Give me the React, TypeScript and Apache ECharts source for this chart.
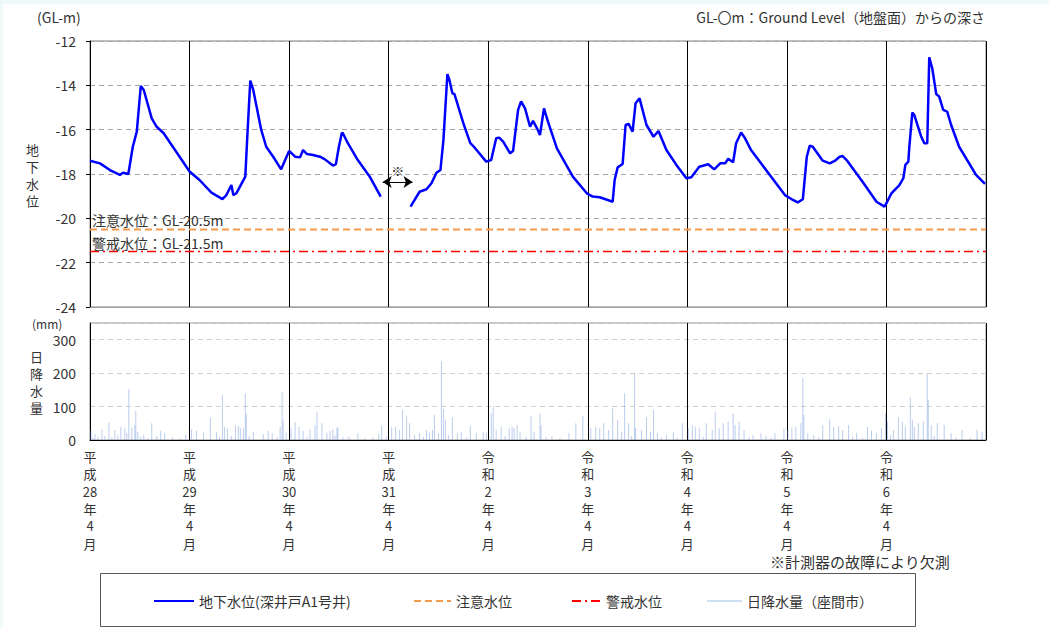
import { useEffect, useRef } from 'react';
import * as echarts from 'echarts';

const FONT = "'Noto Sans CJK JP', 'Noto Sans', sans-serif";
const TEXT = '#333333';

// Fiscal-year boundaries (April), counted in years from 平成28年4月
const yearLabels = [
  '平\n成\n28\n年\n4\n月',
  '平\n成\n29\n年\n4\n月',
  '平\n成\n30\n年\n4\n月',
  '平\n成\n31\n年\n4\n月',
  '令\n和\n2\n年\n4\n月',
  '令\n和\n3\n年\n4\n月',
  '令\n和\n4\n年\n4\n月',
  '令\n和\n5\n年\n4\n月',
  '令\n和\n6\n年\n4\n月',
];

// Groundwater level, deep well A1 [years since 2016-04, GL-m], before the gauge failure
const levelBefore: [number, number][] = [
  [0.0, -17.4], [0.1, -17.52], [0.2, -17.82], [0.3, -18.04], [0.33, -17.94], [0.385, -18.0],
  [0.43, -16.77], [0.47, -16.09], [0.51, -14.03], [0.54, -14.21], [0.62, -15.49], [0.67, -15.87],
  [0.74, -16.16], [0.9, -17.22], [1.0, -17.89], [1.1, -18.27], [1.22, -18.84], [1.33, -19.13],
  [1.37, -18.95], [1.42, -18.5], [1.44, -18.95], [1.47, -18.87], [1.56, -18.12], [1.58, -16.32],
  [1.61, -13.79], [1.64, -14.21], [1.72, -16.01], [1.77, -16.77], [1.84, -17.22], [1.92, -17.79],
  [1.96, -17.37], [2.0, -16.96], [2.06, -17.22], [2.11, -17.25], [2.14, -16.92], [2.18, -17.1],
  [2.24, -17.14], [2.31, -17.22], [2.36, -17.34], [2.44, -17.62], [2.47, -17.55], [2.5, -16.77],
  [2.53, -16.14], [2.54, -16.16], [2.59, -16.61], [2.69, -17.37], [2.81, -18.12], [2.92, -19.02],
];

// Groundwater level after the gauge was restored
const levelAfter: [number, number][] = [
  [3.22, -19.47], [3.31, -18.8], [3.38, -18.69], [3.43, -18.42], [3.48, -17.94], [3.52, -17.82],
  [3.55, -16.47], [3.59, -13.49], [3.61, -13.76], [3.64, -14.36], [3.66, -14.39], [3.75, -15.71],
  [3.82, -16.61], [3.85, -16.74], [3.98, -17.44], [4.03, -17.37], [4.08, -16.39], [4.11, -16.36],
  [4.15, -16.54], [4.22, -17.07], [4.25, -16.95], [4.3, -15.11], [4.33, -14.72], [4.37, -15.04],
  [4.42, -15.87], [4.45, -15.6], [4.49, -15.94], [4.52, -16.24], [4.56, -15.04], [4.6, -15.64],
  [4.69, -16.84], [4.85, -18.12], [4.99, -18.87], [5.05, -19.02], [5.12, -19.05], [5.25, -19.25],
  [5.27, -18.27], [5.3, -17.7], [5.35, -17.55], [5.38, -15.79], [5.41, -15.74], [5.45, -16.09],
  [5.48, -14.81], [5.52, -14.59], [5.59, -15.79], [5.66, -16.32], [5.71, -16.06], [5.79, -16.92],
  [5.89, -17.59], [5.99, -18.19], [6.04, -18.15], [6.12, -17.67], [6.21, -17.56], [6.27, -17.79],
  [6.33, -17.52], [6.38, -17.52], [6.41, -17.31], [6.46, -17.47], [6.49, -16.61], [6.54, -16.13],
  [6.58, -16.39], [6.64, -16.92], [6.74, -17.52], [6.98, -18.95], [7.05, -19.14], [7.11, -19.28],
  [7.16, -19.14], [7.2, -17.22], [7.23, -16.72], [7.26, -16.77], [7.36, -17.4], [7.43, -17.52],
  [7.48, -17.41], [7.53, -17.22], [7.56, -17.19], [7.6, -17.37], [7.76, -18.35], [7.9, -19.25],
  [7.98, -19.47], [8.0, -19.32], [8.05, -18.87], [8.13, -18.5], [8.17, -18.19], [8.19, -17.59],
  [8.22, -17.44], [8.23, -16.77], [8.26, -15.23], [8.28, -15.34], [8.35, -16.32], [8.38, -16.61],
  [8.41, -16.61], [8.43, -12.74], [8.46, -13.23], [8.5, -14.39], [8.53, -14.51], [8.57, -15.11],
  [8.61, -15.19], [8.65, -15.79], [8.73, -16.77], [8.9, -18.04], [8.99, -18.45],
];

// Period with no record (gauge failure)
const missingStart = 2.94;
const missingEnd = 3.24;
const missingMarkLevel = -18.36;

const cautionLevel = -20.5;
const warningLevel = -21.5;

// Daily precipitation, Zama city [years since 2016-04, mm]
const rainDaily: [number, number][] = [
  [0.01, 30], [0.03, 6], [0.05, 18], [0.08, 10], [0.12, 32], [0.15, 12], [0.19, 52], [0.22, 8],
  [0.25, 30], [0.28, 14], [0.31, 40], [0.35, 35], [0.37, 20], [0.39, 153], [0.42, 38], [0.45, 45],
  [0.46, 87], [0.48, 25], [0.51, 10], [0.54, 15], [0.58, 6], [0.62, 50], [0.67, 12], [0.71, 28],
  [0.75, 20], [0.83, 8], [0.9, 5], [0.96, 16],
  [1.02, 32], [1.07, 28], [1.14, 22], [1.21, 67], [1.27, 23], [1.3, 10], [1.33, 134], [1.35, 40],
  [1.38, 35], [1.42, 12], [1.46, 45], [1.49, 42], [1.51, 35], [1.54, 35], [1.56, 140], [1.57, 78],
  [1.6, 12], [1.64, 25], [1.74, 17], [1.79, 28], [1.83, 20], [1.88, 8], [1.91, 40], [1.93, 142],
  [1.94, 58], [1.97, 22],
  [2.02, 35], [2.06, 54], [2.1, 40], [2.14, 28], [2.18, 10], [2.21, 32], [2.26, 45], [2.28, 84],
  [2.33, 50], [2.38, 22], [2.41, 28], [2.44, 32], [2.46, 14], [2.48, 36], [2.49, 38], [2.54, 8],
  [2.6, 10], [2.69, 20], [2.76, 6], [2.84, 8], [2.9, 18], [2.93, 42], [2.98, 10],
  [3.03, 38], [3.07, 40], [3.11, 30], [3.14, 90], [3.18, 70], [3.21, 50], [3.26, 15], [3.31, 20],
  [3.35, 10], [3.38, 30], [3.41, 22], [3.44, 30], [3.46, 75], [3.5, 20], [3.53, 235], [3.55, 92],
  [3.57, 60], [3.6, 14], [3.64, 68], [3.69, 20], [3.73, 25], [3.78, 8], [3.82, 42], [3.88, 20],
  [3.95, 25], [3.98, 22],
  [4.03, 80], [4.05, 100], [4.08, 30], [4.13, 40], [4.17, 12], [4.21, 35], [4.24, 40], [4.26, 35],
  [4.29, 45], [4.32, 25], [4.38, 10], [4.43, 70], [4.46, 25], [4.52, 80], [4.53, 45], [4.58, 8],
  [4.64, 12], [4.72, 6], [4.81, 20], [4.88, 50], [4.95, 72],
  [5.03, 35], [5.08, 40], [5.12, 35], [5.16, 50], [5.21, 30], [5.25, 95], [5.3, 60], [5.34, 25],
  [5.37, 140], [5.41, 50], [5.44, 12], [5.47, 200], [5.48, 35], [5.54, 30], [5.59, 68], [5.63, 25],
  [5.66, 90], [5.7, 20], [5.74, 8], [5.79, 15], [5.86, 25], [5.9, 6], [5.95, 50],
  [6.01, 35], [6.05, 45], [6.08, 40], [6.12, 35], [6.16, 10], [6.19, 50], [6.25, 30], [6.28, 85],
  [6.32, 35], [6.36, 50], [6.41, 55], [6.46, 80], [6.48, 45], [6.52, 55], [6.57, 30], [6.62, 8],
  [6.66, 15], [6.74, 20], [6.79, 12], [6.84, 6], [6.88, 20], [6.97, 35],
  [7.01, 30], [7.05, 35], [7.09, 40], [7.14, 50], [7.16, 185], [7.17, 75], [7.21, 20], [7.27, 15],
  [7.32, 8], [7.36, 45], [7.43, 62], [7.47, 40], [7.52, 42], [7.56, 30], [7.62, 45], [7.66, 10],
  [7.7, 22], [7.76, 6], [7.81, 40], [7.85, 28], [7.9, 20], [7.95, 35], [7.99, 80],
  [8.01, 55], [8.04, 14], [8.07, 30], [8.12, 68], [8.16, 55], [8.19, 40], [8.24, 128], [8.26, 60],
  [8.28, 40], [8.32, 50], [8.37, 55], [8.41, 198], [8.42, 120], [8.45, 45], [8.48, 12], [8.51, 50],
  [8.58, 45], [8.65, 20], [8.7, 8], [8.76, 30], [8.84, 6], [8.91, 30], [8.96, 25],
];

const LEVEL_NAME = '地下水位(深井戸A1号井)';
const CAUTION_NAME = '注意水位';
const WARNING_NAME = '警戒水位';
const RAIN_NAME = '日降水量（座間市）';

const BLUE = '#0000ff';
const ORANGE = '#f39a4c';
const RED = '#ff0000';
const RAIN = 'rgba(132,164,222,0.55)';
const GRID_DASH = '#a6a6a6';
const CLEAR = 'rgba(0,0,0,0)';

export default function App() {
  const ref = useRef<HTMLDivElement>(null);

  useEffect(() => {
    if (!ref.current) return;
    const chart = echarts.init(ref.current, undefined, { renderer: 'svg' });

    const levelData: (number | null)[][] = [
      ...levelBefore,
      [(missingStart + missingEnd) / 2, null],
      ...levelAfter,
    ];

    const legendBase = {
      top: 594,
      padding: 0,
      itemHeight: 14,
      textStyle: { color: TEXT, fontSize: 14, fontFamily: FONT },
      selectedMode: false,
    };
    // line icons only, no point symbol
    const lineIconStyle = { color: CLEAR, borderColor: CLEAR, borderWidth: 0 };

    const thresholdLabel = (text: string) => ({
      show: true,
      position: 'insideStartTop',
      distance: [2, 2],
      formatter: text,
      color: TEXT,
      fontSize: 14,
      fontFamily: FONT,
    });

    chart.setOption({
      animation: false,
      backgroundColor: 'transparent',
      textStyle: { fontFamily: FONT },
      grid: [
        { left: 90, top: 41, width: 896, height: 266, show: true, borderColor: '#7f7f7f', borderWidth: 1 },
        { left: 90, top: 323, width: 896, height: 117, show: true, borderColor: '#8c8c8c', borderWidth: 1 },
      ],
      xAxis: [
        {
          type: 'value', gridIndex: 0, min: 0, max: 9, interval: 1,
          axisLine: { show: true, onZero: false, lineStyle: { color: '#a0a0a0' } },
          axisTick: { show: false },
          axisLabel: { show: false },
          splitLine: { show: true, lineStyle: { color: '#000', width: 1 } },
        },
        {
          type: 'value', gridIndex: 1, min: 0, max: 9, interval: 1,
          axisLine: { show: true, onZero: false, lineStyle: { color: '#000' } },
          axisTick: { show: false },
          axisLabel: {
            show: true,
            margin: 8,
            color: TEXT,
            fontSize: 13,
            lineHeight: 17.3,
            fontFamily: FONT,
            verticalAlign: 'top',
            formatter: (v: number) => yearLabels[Math.round(v)] ?? '',
          },
          splitLine: { show: true, lineStyle: { color: '#000', width: 1 } },
        },
      ],
      yAxis: [
        {
          type: 'value', gridIndex: 0, min: -24, max: -12, interval: 2,
          axisLine: { show: true, onZero: false, lineStyle: { color: '#000' } },
          axisTick: { show: true, length: 4, lineStyle: { color: '#000' } },
          axisLabel: { color: TEXT, fontSize: 14, lineHeight: 14, margin: 14, fontFamily: FONT },
          splitLine: { show: true, lineStyle: { color: GRID_DASH, type: [5, 4], width: 1 } },
        },
        {
          type: 'value', gridIndex: 1, min: 0, max: 350, interval: 100,
          axisLine: { show: true, onZero: false, lineStyle: { color: '#000' } },
          axisTick: { show: false },
          axisLabel: {
            color: TEXT, fontSize: 14, lineHeight: 14, margin: 14, fontFamily: FONT, showMaxLabel: false,
          },
          splitLine: { show: true, lineStyle: { color: '#d0d0d0', type: [5, 4], width: 1 } },
        },
      ],
      legend: [
        { ...legendBase, left: 153, itemWidth: 40, itemStyle: lineIconStyle, data: [LEVEL_NAME] },
        { ...legendBase, left: 413, itemWidth: 37, itemStyle: lineIconStyle, data: [CAUTION_NAME] },
        { ...legendBase, left: 571, itemWidth: 29, itemStyle: lineIconStyle, data: [WARNING_NAME] },
        {
          ...legendBase, left: 707, itemWidth: 35,
          data: [{ name: RAIN_NAME, icon: 'path://M0,0H40V1.4H0Z', itemStyle: { color: '#9dc3e6' } }],
        },
      ],
      graphic: [
        {
          type: 'text', left: 37, top: 10,
          style: { text: '(GL-m)', fill: TEXT, font: `14px ${FONT}` },
        },
        {
          type: 'text', right: 64, top: 10,
          style: { text: 'GL-〇m：Ground Level（地盤面）からの深さ', fill: TEXT, font: `14px ${FONT}` },
        },
        {
          type: 'text', left: 26, top: 141,
          style: { text: '地\n下\n水\n位', fill: TEXT, font: `13px ${FONT}`, lineHeight: 17 },
        },
        {
          type: 'text', left: 32, top: 317,
          style: { text: '(mm)', fill: TEXT, font: `12px ${FONT}`, lineHeight: 13 },
        },
        {
          type: 'text', left: 30, top: 348,
          style: { text: '日\n降\n水\n量', fill: TEXT, font: `13px ${FONT}`, lineHeight: 17 },
        },
        {
          type: 'text', right: 99, top: 554,
          style: { text: '※計測器の故障により欠測', fill: TEXT, font: `15px ${FONT}` },
        },
        {
          type: 'rect', left: 100, top: 573,
          shape: { width: 815, height: 53 },
          style: { fill: 'transparent', stroke: '#555', lineWidth: 1 },
        },
      ],
      series: [
        {
          name: RAIN_NAME,
          type: 'bar',
          xAxisIndex: 1,
          yAxisIndex: 1,
          barWidth: 1,
          itemStyle: { color: RAIN },
          data: rainDaily,
          z: 1,
        },
        {
          name: CAUTION_NAME,
          type: 'line',
          xAxisIndex: 0,
          yAxisIndex: 0,
          showSymbol: false,
          symbol: 'none',
          lineStyle: { color: ORANGE, width: 2, type: [7, 4] },
          itemStyle: { color: ORANGE },
          data: [[0, cautionLevel], [9, cautionLevel]],
          markLine: {
            silent: true,
            symbol: 'none',
            lineStyle: { color: CLEAR, width: 1, type: 'solid' },
            label: thresholdLabel(`注意水位：GL${cautionLevel}m`),
            data: [{ yAxis: cautionLevel }],
          },
        },
        {
          name: WARNING_NAME,
          type: 'line',
          xAxisIndex: 0,
          yAxisIndex: 0,
          showSymbol: false,
          symbol: 'none',
          lineStyle: { color: RED, width: 1.5, type: [9, 4, 2, 4] },
          itemStyle: { color: RED },
          data: [[0, warningLevel], [9, warningLevel]],
          markLine: {
            silent: true,
            symbol: 'none',
            lineStyle: { color: CLEAR, width: 1, type: 'solid' },
            label: thresholdLabel(`警戒水位：GL${warningLevel}m`),
            data: [{ yAxis: warningLevel }],
          },
        },
        {
          name: LEVEL_NAME,
          type: 'line',
          xAxisIndex: 0,
          yAxisIndex: 0,
          showSymbol: false,
          symbol: 'none',
          connectNulls: false,
          lineStyle: { color: BLUE, width: 2.5 },
          itemStyle: { color: BLUE },
          data: levelData,
          z: 5,
          markLine: {
            silent: true,
            symbol: ['arrow', 'arrow'],
            symbolSize: 9,
            lineStyle: { color: '#000', width: 1, type: 'solid' },
            label: {
              position: 'insideMiddleTop',
              formatter: '※',
              color: TEXT,
              fontSize: 13,
              fontFamily: FONT,
            },
            data: [[
              { coord: [missingStart, missingMarkLevel] },
              { coord: [missingEnd, missingMarkLevel] },
            ]],
          },
        },
      ],
    });

    return () => chart.dispose();
  }, []);

  return (
    <div style={{ position: 'absolute', left: 0, top: 0, width: 1049, height: 627, background: '#eefafa' }}>
      <div style={{ position: 'absolute', left: 3, top: 4, right: 0, bottom: 0, background: '#ffffff' }} />
      <div ref={ref} style={{ position: 'absolute', left: 0, top: 0, width: 1049, height: 627 }} />
    </div>
  );
}
